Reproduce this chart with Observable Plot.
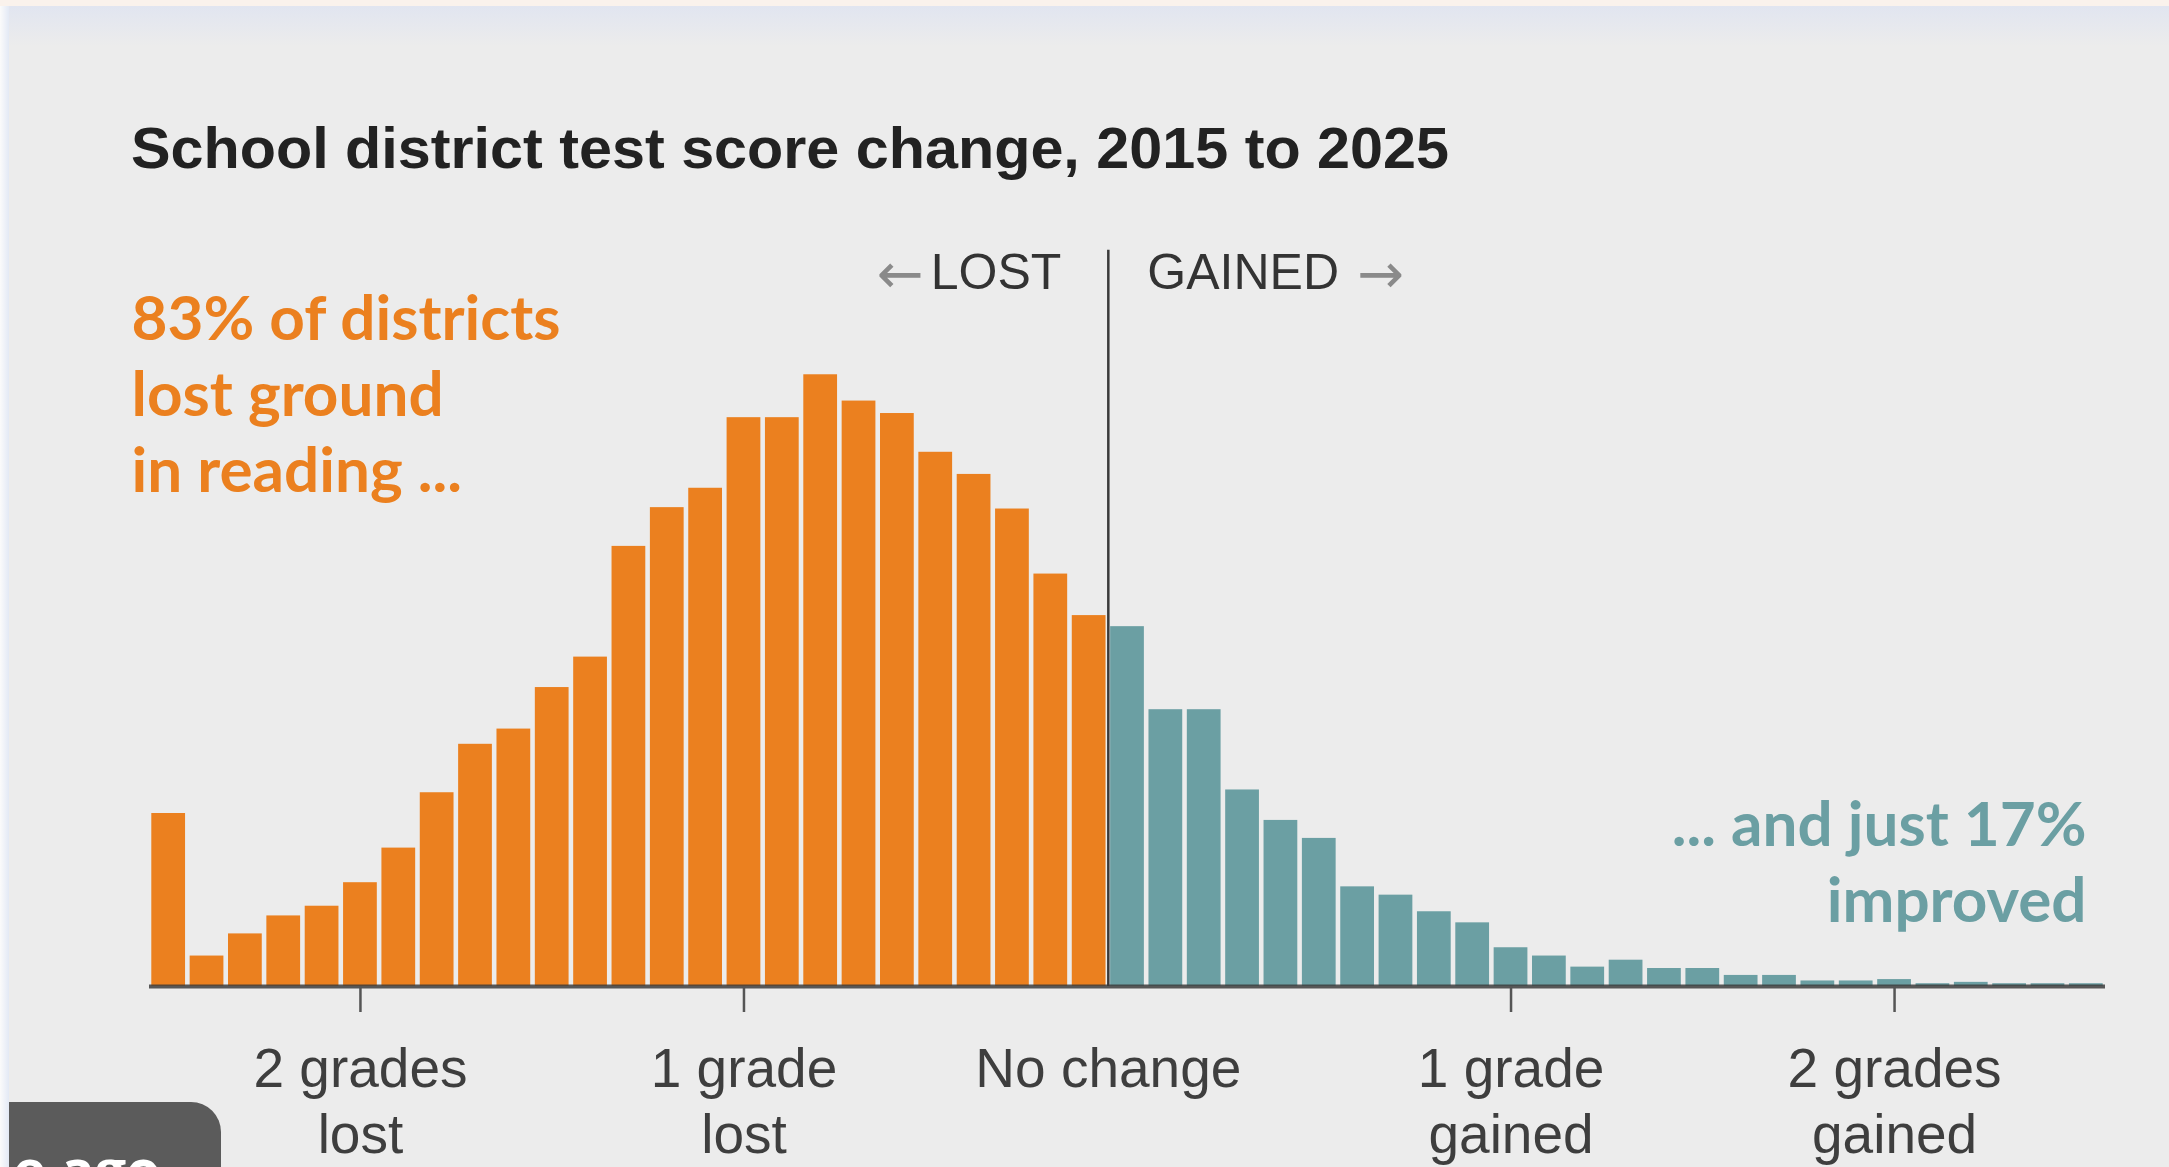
<!DOCTYPE html>
<html>
<head>
<meta charset="utf-8">
<script src="https://cdn.jsdelivr.net/npm/d3@7"></script>
<script src="https://cdn.jsdelivr.net/npm/@observablehq/plot@0.6"></script>
<style>
  html, body { margin: 0; padding: 0; }
  body { width: 2169px; height: 1167px; overflow: hidden; position: relative; background: #ececec; font-family: "Liberation Sans", Arial, sans-serif; }
  #topstrip { position: absolute; left: 0; top: 0; width: 2169px; height: 6px; background: #faf2ec; }
  #topfade { position: absolute; left: 0; top: 6px; width: 2169px; height: 40px; background: linear-gradient(#e1e5f0, #ececec); }
  #leftstrip { position: absolute; left: 0; top: 6px; width: 9px; height: 1161px; background: linear-gradient(90deg, #fbfbfb, #e3e9f5); }
  #title { position: absolute; left: 131px; top: 119px; font-weight: bold; font-size: 58px; color: #222; white-space: nowrap; transform-origin: 0 0; line-height: 1; }
  #chart { position: absolute; left: 0; top: 220px; }
  #badge { position: absolute; left: 9px; top: 1102px; width: 212px; height: 80px; background: #5b5b5b; border-top-right-radius: 30px; overflow: hidden; }
  #badge span { position: absolute; left: 4px; top: 28px; color: #fff; font-weight: bold; font-size: 56px; font-family: "Open Sans", sans-serif; }
</style>
</head>
<body>
<div id="topstrip"></div>
<div id="topfade"></div>
<div id="leftstrip"></div>
<div id="title">School district test score change, 2015 to 2025</div>
<div id="chart"></div>
<div id="badge"><span>e ago</span></div>
<script>
// Bin edges (grade levels of change), 51 bins of 0.1 grade
const binEdges = [-2.5,-2.4,-2.3,-2.2,-2.1,-2.0,-1.9,-1.8,-1.7,-1.6,-1.5,-1.4,-1.3,-1.2,-1.1,-1.0,-0.9,-0.8,-0.7,-0.6,-0.5,-0.4,-0.3,-0.2,-0.1,
  0.0,0.1,0.2,0.3,0.4,0.5,0.6,0.7,0.8,0.9,1.0,1.1,1.2,1.3,1.4,1.5,1.6,1.7,1.8,1.9,2.0,2.1,2.2,2.3,2.4,2.5,2.6];
// Relative share of districts in each bin (lost side, then gained side)
const lostValues = [125,22,38,51,58,75,100,140,175,186,216,238,318,346,360,411,411,442,423,414,386,370,345,298,268];
const gainedValues = [260,200,200,142,120,107,72,66,54,46,28,22,14,19,13,13,8,8,4,4,5,2,3,2,2,2];
// Axis labels
const tickPositions = [-1.95, -0.95, 0, 1.05, 2.05];
const tickLabels = ["2 grades\nlost", "1 grade\nlost", "No change", "1 grade\ngained", "2 grades\ngained"];
const tickHasMark = [true, true, false, true, true];
const lostNote = "83% of districts\nlost ground\nin reading ...";
const gainedNote = "... and just 17%\nimproved";

const ORANGE = "#eb801f", TEAL = "#6b9fa3";

const values = lostValues.concat(gainedValues);
const bars = values.map((v, i) => ({x1: binEdges[i], x2: binEdges[i + 1], value: v, side: i < lostValues.length ? "lost" : "gained"}));
const ticks = tickPositions.map((p, i) => ({pos: p, label: tickLabels[i], mark: tickHasMark[i]}));

const chart = Plot.plot({
  width: 2169,
  height: 947,
  marginTop: 74,
  marginBottom: 181,
  marginLeft: 149,
  marginRight: 64,
  x: {domain: [-2.5, 2.6], axis: null},
  y: {domain: [0, 500], axis: null},
  style: {background: "transparent", overflow: "visible", fontFamily: "'Liberation Sans', Arial, sans-serif"},
  marks: [
    Plot.rectY(bars, {x1: "x1", x2: "x2", y: "value", fill: d => d.side === "lost" ? ORANGE : TEAL, insetLeft: 2.3, insetRight: 2.3}),
    Plot.ruleY([0], {stroke: "#3d3d3d", strokeWidth: 4, strokeOpacity: 0.85}),
    Plot.ruleX([0], {y1: 0, y2: 532, stroke: "#3a3a3a", strokeWidth: 2.5}),
    Plot.ruleX(ticks.filter(d => d.mark), {x: "pos", y1: 0, y2: 0, insetBottom: -26, stroke: "#555", strokeWidth: 2.5}),
    Plot.text(ticks, {x: "pos", y: 0, text: "label", dy: 54, lineAnchor: "top", lineHeight: 1.2, fontSize: 55, fill: "#3e3e3e"}),
    Plot.text(["LOST"], {x: 0, frameAnchor: "top", dy: -41, dx: -47, textAnchor: "end", fontSize: 50, fill: "#333"}),
    Plot.text(["GAINED"], {x: 0, frameAnchor: "top", dy: -41, dx: 39, textAnchor: "start", fontSize: 50, fill: "#333"}),
    Plot.text(["←"], {x: 0, frameAnchor: "top", dy: -41, dx: -185, textAnchor: "end", fontSize: 56, fill: "#8a8a8a", fontFamily: "DejaVu Sans"}),
    Plot.text(["→"], {x: 0, frameAnchor: "top", dy: -41, dx: 249, textAnchor: "start", fontSize: 56, fill: "#8a8a8a", fontFamily: "DejaVu Sans"}),
    Plot.text([lostNote], {frameAnchor: "top-left", dx: -18, dy: -8, lineAnchor: "top", textAnchor: "start", lineHeight: 1.226, fontSize: 62, fontWeight: "bold", fill: ORANGE, fontFamily: "Lato, 'Liberation Sans', Arial"}),
    Plot.text([gainedNote], {frameAnchor: "top-right", dx: -19, dy: 498, lineAnchor: "top", textAnchor: "end", lineHeight: 1.226, fontSize: 62, fontWeight: "bold", fill: TEAL, fontFamily: "Lato, 'Liberation Sans', Arial"})
  ]
});
document.getElementById("chart").appendChild(chart);

// Fit the title width to the reference layout
const title = document.getElementById("title");
const w = title.getBoundingClientRect().width;
title.style.transform = `scaleX(${1318 / w})`;
</script>
</body>
</html>
